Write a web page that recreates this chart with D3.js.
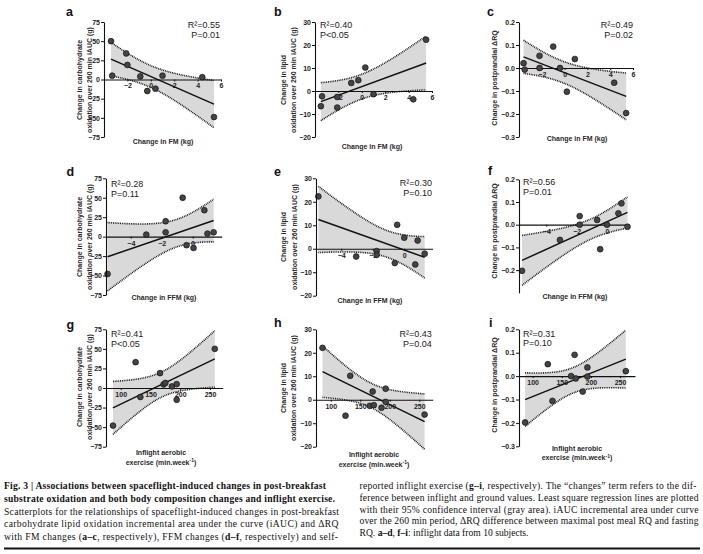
<!DOCTYPE html>
<html><head><meta charset="utf-8">
<script src="https://cdn.jsdelivr.net/npm/d3@7"></script>
<style>body{margin:0;background:#fff}svg{display:block}</style>
</head><body>
<svg id="c" width="703" height="554"></svg>
<script>
// ---- data ----
const aX = [-3.4,-3.3,-2.1,-2.0,-0.9,-0.3,0.4,1.0,4.4,5.4];
const aY = [50,5,34,19,4,-15,-12,5,3,-49];
const bX = [-3.5,-3.4,-2.1,-2.1,-0.9,-0.3,0.3,1.0,4.4,5.5];
const bY = [-6.6,-2.3,-2.6,-7.2,3.5,4.7,10.2,-1.4,-3.6,22.3];
const cX = [-3.6,-3.5,-2.2,-2.2,-1.0,-0.4,0.2,0.9,4.35,5.4];
const cY = [0.021,-0.007,0.053,0.0,0.093,0.0,-0.103,0.039,-0.064,-0.196];
const dX = [-5.5,-3.0,-1.75,-1.75,-0.65,-0.4,0.05,0.75,0.95,1.35];
const dY = [-48,2.6,19.8,5.6,50,-11,-14.5,34,3.9,5.6];
const eX = [-5.45,-3.05,-1.75,-1.75,-0.6,-0.45,0.0,0.7,0.85,1.3];
const eY = [22.3,-3.3,-1.0,-2.6,-6.1,10.2,4.7,-6.7,3.5,-2.1];
const fX = [-5.6,-3.1,-1.8,-1.8,-0.65,-0.45,0.0,0.75,0.95,1.35];
const fY = [-0.203,-0.067,0.038,0.0,0.021,-0.108,0.0,0.05,0.094,-0.009];
const gX = [87,125,133,166,172,175,186,194,194,258];
const gY = [-48,33,-11.5,19,4.6,6.4,2,5,-15,50];
const hX = [86,125,133,166,171,173,186,193,193,259];
const hY = [22.1,-6.8,10.2,-2.6,3.5,-2.3,-3.4,4.7,-0.9,-6.3];
const iX = [87,126,134,166,172,174,186,194,194,260];
const iY = [-0.198,0.051,-0.106,0.0,0.091,-0.01,-0.066,0.037,-0.002,0.021];

const ticksCarb = [-75,-50,-25,0,25,50,75];
const ticksLipid = [-20,-10,0,10,20,30];
const ticksRQ = [-0.3,-0.2,-0.1,0.0,0.1,0.2];
const ticksRQf = [-0.2,-0.1,0.0,0.1,0.2];
const ticksFM = [-2,0,2,4,6];
const ticksFFM = [-4,-2,0];
const ticksEx = [100,150,200,250];

const stats = {
  a:['R²=0.55','P=0.01'], b:['R²=0.40','P<0.05'], c:['R²=0.49','P=0.02'],
  d:['R²=0.28','P=0.11'], e:['R²=0.30','P=0.10'], f:['R²=0.56','P=0.01'],
  g:['R²=0.41','P<0.05'], h:['R²=0.43','P=0.04'], i:['R²=0.31','P=0.10']
};
const labCarb = ['Change in carbohydrate','oxidation over 260 min iAUC (g)'];
const labLipid = ['Change in lipid','oxidation over 260 min iAUC (g)'];
const labRQ = ['Change in postprandial ΔRQ'];
const labFM = 'Change in FM (kg)';
const labFFM = 'Change in FFM (kg)';

// ---- layout ----
const fmtInt = d3.format('d');
const fmtRQ = d => d3.format('.1f')(d);
const panels = [
 {L:'a',X:aX,Y:aY,ax:104,top:22,bot:137,yd:[-75,75],xd:[-4,6],xe:221,yt:ticksCarb,yf:fmtInt,xt:ticksFM,
  sx:220,sa:'end',sy:[28.3,38],lt:[66,15.7],yl:labCarb,ylx:[80,89.5],yly:80,xl:[labFM],xlx:163,xly:[143.5]},
 {L:'b',X:bX,Y:bY,ax:315,top:22,bot:137,yd:[-20,30],xd:[-4,6],xe:432,yt:ticksLipid,yf:fmtInt,xt:ticksFM,
  sx:320,sa:'start',sy:[27.5,37.5],lt:[274,15.7],yl:labLipid,ylx:[284,294],yly:80,xl:[labFM],xlx:372,xly:[148.5]},
 {L:'c',X:cX,Y:cY,ax:519,top:22,bot:137,yd:[-0.3,0.2],xd:[-4,6],xe:633,yt:ticksRQ,yf:fmtRQ,xt:ticksFM,
  sx:633,sa:'end',sy:[28.3,38.3],lt:[487,15.7],yl:labRQ,ylx:[495],yly:78,xl:[labFM],xlx:577,xly:[140.5]},
 {L:'d',X:dX,Y:dY,ax:106,top:178.3,bot:295,yd:[-75,75],xd:[-5.6,1.87],xe:221.7,yt:ticksCarb,yf:fmtInt,xt:ticksFFM,
  sx:111,sa:'start',sy:[187.3,197.3],lt:[66.5,176],yl:labCarb,ylx:[80,90],yly:237,xl:[labFFM],xlx:164,xly:[300]},
 {L:'e',X:eX,Y:eY,ax:316,top:178.3,bot:295.7,yd:[-20,30],xd:[-5.6,1.8],xe:432.6,yt:ticksLipid,yf:fmtInt,xt:ticksFFM,
  sx:432,sa:'end',sy:[185.6,195.6],lt:[274,175.7],yl:labLipid,ylx:[284,294.3],yly:237,xl:[labFFM],xlx:370,xly:[302.5]},
 {L:'f',X:fX,Y:fY,ax:519,top:179.3,bot:292.8,yd:[-0.3,0.2],xd:[-5.8,1.45],xe:629,yt:ticksRQf,yf:fmtRQ,xt:ticksFFM,
  sx:523,sa:'start',sy:[185,195],lt:[488,175],yl:labRQ,ylx:[495],yly:231,xl:[labFFM],xlx:575,xly:[298.5]},
 {L:'g',X:gX,Y:gY,ax:106,top:329.3,bot:446.7,yd:[-75,75],xd:[75.3,271.3],xe:222.7,yt:ticksCarb,yf:fmtInt,xt:ticksEx,
  sx:111,sa:'start',sy:[336.6,346.6],lt:[66.5,329],yl:labCarb,ylx:[80,90],yly:387,xl:null,xlx:161,xly:[454.5,464.5]},
 {L:'h',X:hX,Y:hY,ax:316,top:329.3,bot:446.7,yd:[-20,30],xd:[75,272.7],xe:432.7,yt:ticksLipid,yf:fmtInt,xt:ticksEx,
  sx:431.7,sa:'end',sy:[336.6,346.6],lt:[274,327.3],yl:labLipid,ylx:[284,294],yly:388,xl:null,xlx:374,xly:[457,466.5]},
 {L:'i',X:iX,Y:iY,ax:519,top:329.3,bot:446.3,yd:[-0.3,0.2],xd:[76.5,275.8],xe:635,yt:ticksRQ,yf:fmtRQ,xt:ticksEx,
  sx:523,sa:'start',sy:[336.6,346.3],lt:[489,326.7],yl:labRQ,ylx:[495],yly:385,xl:null,xlx:577,xly:[450.5,460]}
];

const svg = d3.select('#c');
const SANS = '"Liberation Sans", Arial, sans-serif';
const SERIF = '"Liberation Serif", "Times New Roman", serif';
const TCRIT = 2.306; // t(0.975, df=8)

function regression(xs, ys){
  const n = xs.length, mx = d3.mean(xs), my = d3.mean(ys);
  let sxx=0, sxy=0;
  xs.forEach((x,k)=>{sxx+=(x-mx)*(x-mx); sxy+=(x-mx)*(ys[k]-my);});
  const b = sxy/sxx, a = my - b*mx;
  let sse=0; xs.forEach((x,k)=>{const r=ys[k]-(a+b*x); sse+=r*r;});
  const s = Math.sqrt(sse/(n-2));
  return {a,b,s,n,mx,sxx};
}

panels.forEach(p=>{
  const g = svg.append('g');
  const x = d3.scaleLinear().domain(p.xd).range([p.ax,p.xe]);
  const y = d3.scaleLinear().domain(p.yd).range([p.bot,p.top]);
  const r = regression(p.X,p.Y);
  const [x0,x1] = d3.extent(p.X);
  const grid = d3.range(0,81).map(k=>x0+(x1-x0)*k/80);
  const band = grid.map(v=>{
    const yh=r.a+r.b*v;
    const se=r.s*Math.sqrt(1/r.n+(v-r.mx)*(v-r.mx)/r.sxx);
    return {v,lo:yh-TCRIT*se,hi:yh+TCRIT*se};
  });
  g.append('path').datum(band)
    .attr('d',d3.area().x(d=>x(d.v)).y0(d=>y(d.lo)).y1(d=>y(d.hi)))
    .attr('fill','#d9d9d9');
  ['lo','hi'].forEach(k=>{
    g.append('path').datum(band)
      .attr('d',d3.line().x(d=>x(d.v)).y(d=>y(d[k])))
      .attr('fill','none').attr('stroke','#111').attr('stroke-width',1.6)
      .attr('stroke-dasharray','0.9,0.9');
  });
  // x axis at zero
  const xa = g.append('g').attr('transform',`translate(0,${y(0)})`)
    .call(d3.axisBottom(x).tickValues(p.xt).tickSize(2).tickSizeOuter(0).tickPadding(2).tickFormat(fmtInt));
  xa.select('.domain').attr('stroke','#111').attr('stroke-width',1.2);
  xa.selectAll('.tick line').attr('stroke','#111');
  xa.selectAll('text').attr('font-family',SANS).attr('font-size',7).attr('font-weight','bold').attr('fill','#222');
  // regression line
  g.append('line').attr('x1',x(x0)).attr('x2',x(x1))
    .attr('y1',y(r.a+r.b*x0)).attr('y2',y(r.a+r.b*x1))
    .attr('stroke','#111').attr('stroke-width',1.5);
  // points
  g.selectAll('circle').data(p.X.map((v,k)=>[v,p.Y[k]])).join('circle')
    .attr('cx',d=>x(d[0])).attr('cy',d=>y(d[1])).attr('r',2.9)
    .attr('fill','#444').attr('stroke','#111').attr('stroke-width',0.7);
  // y axis
  const ya = g.append('g').attr('transform',`translate(${p.ax},0)`)
    .call(d3.axisLeft(y).tickValues(p.yt).tickSize(3).tickSizeOuter(0).tickPadding(1).tickFormat(p.yf));
  ya.select('.domain').attr('stroke','#111').attr('stroke-width',1.1);
  ya.selectAll('.tick line').attr('stroke','#111');
  ya.selectAll('text').attr('font-family',SANS).attr('font-size',7).attr('font-weight','bold').attr('fill','#222');
  // stats
  p.sy.forEach((yy,k)=>{
    g.append('text').attr('x',p.sx).attr('y',yy).attr('text-anchor',p.sa)
      .attr('font-family',SANS).attr('font-size',9).attr('fill','#222').text(stats[p.L][k]);
  });
  // letter
  g.append('text').attr('x',p.lt[0]).attr('y',p.lt[1]).attr('font-family',SANS)
    .attr('font-size',12.5).attr('font-weight','bold').attr('fill','#111').text(p.L);
  // y label
  p.yl.forEach((t,k)=>{
    g.append('text').attr('transform',`translate(${p.ylx[k]},${p.yly}) rotate(-90)`)
      .attr('text-anchor','middle').attr('dy','0.35em')
      .attr('font-family',SANS).attr('font-size',7).attr('font-weight','bold').attr('fill','#2a2a2a').text(t);
  });
  // x label
  if(p.xl){
    g.append('text').attr('x',p.xlx).attr('y',p.xly[0]).attr('text-anchor','middle')
      .attr('font-family',SANS).attr('font-size',7).attr('font-weight','bold').attr('fill','#2a2a2a').text(p.xl[0]);
  } else {
    g.append('text').attr('x',p.xlx).attr('y',p.xly[0]).attr('text-anchor','middle')
      .attr('font-family',SANS).attr('font-size',7).attr('font-weight','bold').attr('fill','#2a2a2a').text('Inflight aerobic');
    const t2 = g.append('text').attr('x',p.xlx).attr('y',p.xly[1]).attr('text-anchor','middle')
      .attr('font-family',SANS).attr('font-size',7).attr('font-weight','bold').attr('fill','#2a2a2a');
    t2.append('tspan').text('exercise (min.week');
    t2.append('tspan').attr('font-size',5).attr('dy',-2.5).text('-1');
    t2.append('tspan').attr('dy',2.5).text(')');
  }
});

// ---- caption ----
const capLeft = [
  {y:489.3, w:322, segs:[['Fig. 3 | Associations between spaceflight-induced changes in post-breakfast',1]]},
  {y:501.7, w:331, segs:[['substrate oxidation and both body composition changes and inflight exercise.',1]]},
  {y:514.5, w:335, segs:[['Scatterplots for the relationships of spaceflight-induced changes in post-breakfast',0]]},
  {y:527,   w:334.5, segs:[['carbohydrate lipid oxidation incremental area under the curve (iAUC) and ΔRQ',0]]},
  {y:539.5, w:334, segs:[['with FM changes (',0],['a–c',1],[', respectively), FFM changes (',0],['d–f',1],[', respectively) and self-',0]]}
];
const capRight = [
  {y:489, w:337, segs:[['reported inflight exercise (',0],['g–i',1],[', respectively). The “changes” term refers to the dif-',0]]},
  {y:500.8, w:339, segs:[['ference between inflight and ground values. Least square regression lines are plotted',0]]},
  {y:512.6, w:339, segs:[['with their 95% confidence interval (gray area). iAUC incremental area under curve',0]]},
  {y:524.4, w:339, segs:[['over the 260 min period, ΔRQ difference between maximal post meal RQ and fasting',0]]},
  {y:536.2, w:null, segs:[['RQ. ',0],['a–d',1],[', ',0],['f–i',1],[': inflight data from 10 subjects.',0]]}
];
function capLines(lines, x0){
  lines.forEach(l=>{
    const t = svg.append('text').attr('x',x0).attr('y',l.y)
      .attr('font-family',SERIF).attr('font-size',9.6).attr('fill','#111');
    if(l.w) t.attr('textLength',l.w).attr('lengthAdjust','spacing');
    l.segs.forEach(s=>t.append('tspan').attr('font-weight',s[1]?'bold':'normal').text(s[0]));
  });
}
capLines(capLeft,4);
capLines(capRight,359.5);
svg.append('line').attr('x1',4).attr('x2',700).attr('y1',548.5).attr('y2',548.5)
  .attr('stroke','#111').attr('stroke-width',2);
</script>
</body></html>
